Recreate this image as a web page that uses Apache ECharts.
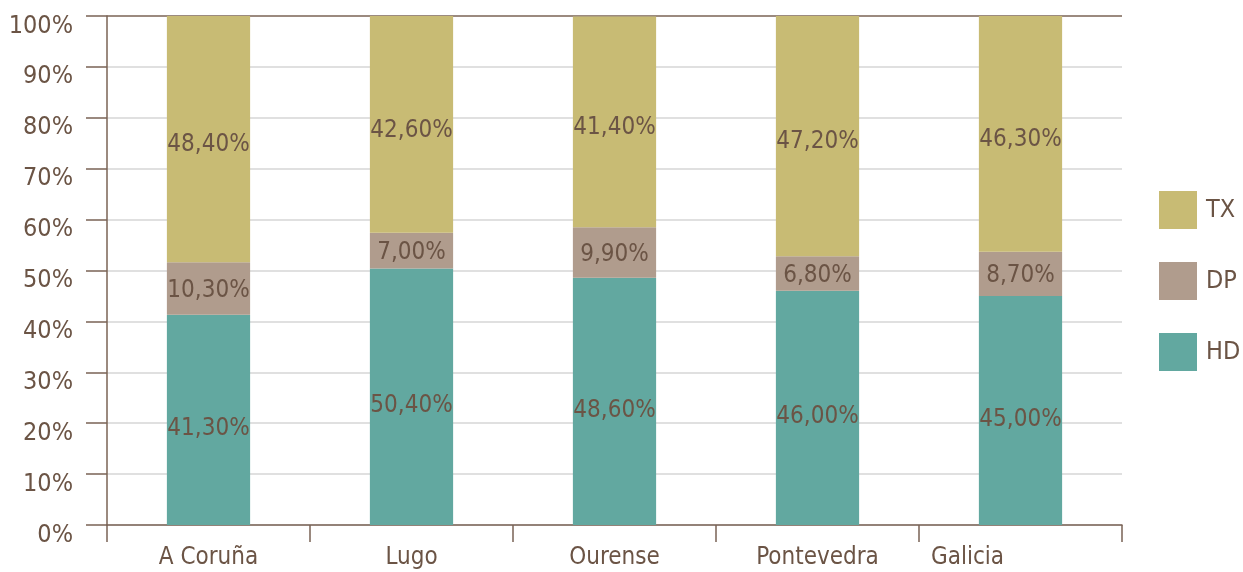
<!DOCTYPE html>
<html>
<head>
<meta charset="utf-8">
<script src="https://cdn.jsdelivr.net/npm/echarts@6/dist/echarts.min.js"></script>
<style>
  html, body { margin: 0; padding: 0; background: #fff; }
  #chart { width: 1243px; height: 572px; }
</style>
</head>
<body>
<div id="chart"></div>
<script>
const categories = ["A Coruña", "Lugo", "Ourense", "Pontevedra", "Galicia"];
const hdValues = [41.3, 50.4, 48.6, 46.0, 45.0];
const dpValues = [10.3, 7.0, 9.9, 6.8, 8.7];
const txValues = [48.4, 42.6, 41.4, 47.2, 46.3];
const yTicks = [0, 10, 20, 30, 40, 50, 60, 70, 80, 90, 100];

const brown = "#6b5445";
const axisBrown = "#7a6355";
const font = "'Liberation Sans Narrow', 'DejaVu Sans Condensed', sans-serif";

// gridlines light gray, the one at 100% dark like the axis
const splitColors = yTicks.map(function (t) { return t === 100 ? axisBrown : "#d6d6d6"; });

function fmt(p) {
  return p.value.toFixed(2).replace(".", ",") + "%";
}

function barSeries(name, data, color, dy) {
  return {
    name: name,
    type: "bar",
    stack: "total",
    barWidth: "41%",
    data: data,
    itemStyle: { color: color },
    label: {
      show: true,
      position: "inside",
      offset: [0, dy],
      formatter: fmt,
      color: brown,
      fontFamily: font,
      fontSize: 24
    }
  };
}

let myChart = echarts.init(document.getElementById("chart"));
let option = {
  animation: false,
  grid: { left: 107, right: 121, top: 16, bottom: 47 },
  legend: {
    orient: "vertical",
    left: 1159,
    top: 191,
    padding: 0,
    itemWidth: 38,
    itemHeight: 38,
    itemGap: 33,
    icon: "rect",
    data: ["TX", "DP", "HD"],
    textStyle: { color: brown, fontFamily: font, fontSize: 25, padding: [0, 0, 0, 4] }
  },
  xAxis: {
    type: "category",
    data: categories,
    axisLine: { lineStyle: { color: axisBrown, width: 1.5 } },
    axisTick: { show: true, interval: 0, length: 17, lineStyle: { color: axisBrown, width: 1.5 } },
    axisLabel: {
      interval: 0,
      color: brown,
      fontFamily: font,
      fontSize: 24,
      margin: 21,
      formatter: function (v) {
        return v === "Galicia" ? "{shift|" + v + "}" : v;
      },
      rich: {
        shift: { color: brown, fontFamily: font, fontSize: 24, padding: [0, 106, 0, 0] }
      }
    }
  },
  yAxis: {
    type: "value",
    min: 0,
    max: 100,
    interval: 10,
    axisLine: { show: true, lineStyle: { color: axisBrown, width: 1.5 } },
    axisTick: { show: true, length: 21, lineStyle: { color: axisBrown, width: 1.5 } },
    axisLabel: {
      formatter: "{value}%",
      color: brown,
      fontFamily: font,
      fontSize: 25,
      margin: 34,
      verticalAlign: "top",
      lineHeight: 20
    },
    splitLine: { show: true, lineStyle: { color: splitColors, width: 1.5 } }
  },
  series: [
    barSeries("HD", hdValues, "#62a8a0", 9),
    barSeries("DP", dpValues, "#b09c8d", 2),
    barSeries("TX", txValues, "#c8bb74", 6)
  ]
};
myChart.setOption(option);
</script>
</body>
</html>
